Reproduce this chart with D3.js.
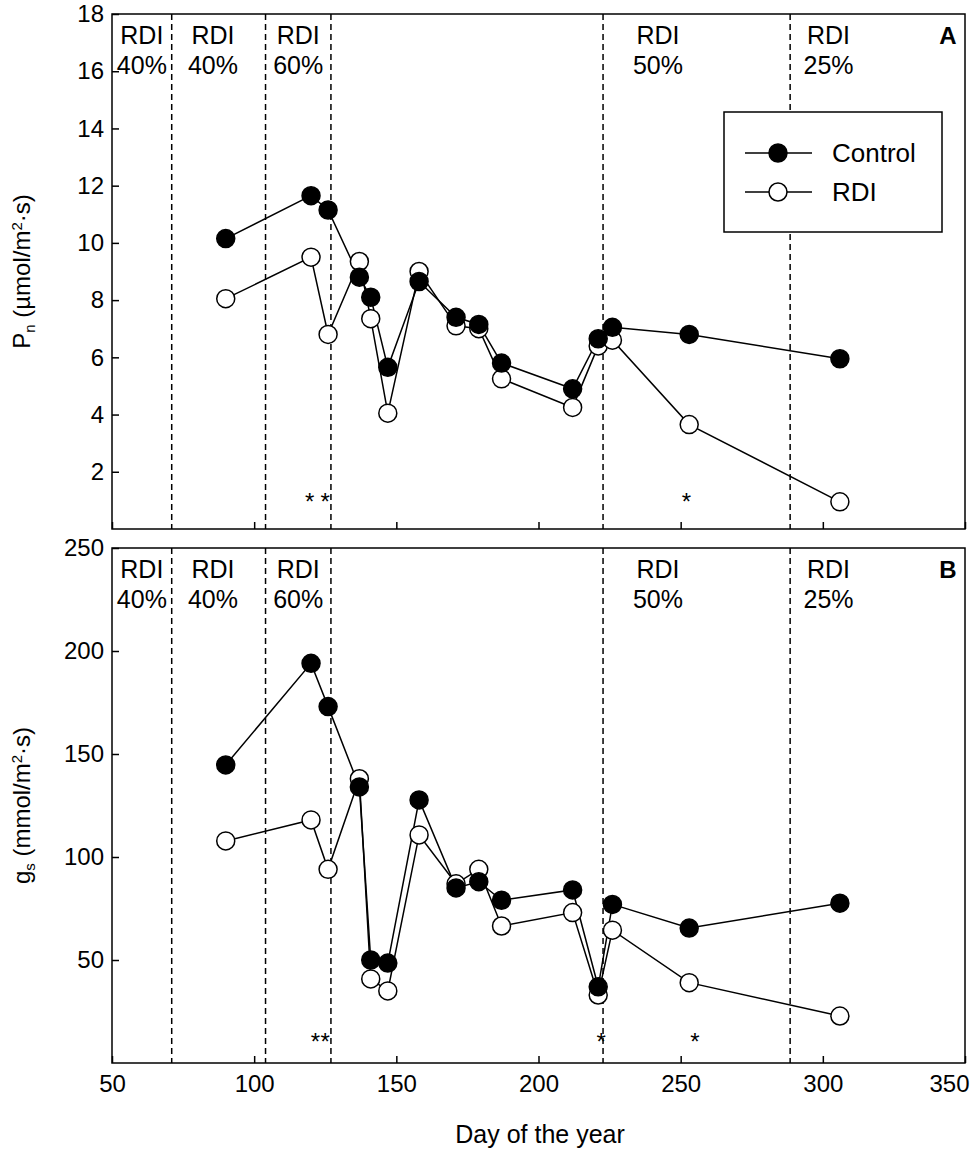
<!DOCTYPE html>
<html><head><meta charset="utf-8">
<script src="https://cdn.jsdelivr.net/npm/d3@7"></script>
<style>body{margin:0;background:#fff}text{font-family:"Liberation Sans Narrow","Arial Narrow","Liberation Sans",sans-serif}</style>
</head><body><svg id="c" width="971" height="1153"></svg>
<script>
const days=[90,120,126,137,141,147,158,171,179,187,212,221,226,253,306];
const pnControl=[10.15,11.65,11.15,8.8,8.1,5.65,8.65,7.4,7.15,5.8,4.9,6.65,7.05,6.8,5.95];
const pnRDI=[8.05,9.5,6.8,9.35,7.35,4.05,9.0,7.1,7.0,5.25,4.25,6.4,6.6,3.65,0.95];
const gsControl=[144.7,194,173,134,50,48.5,127.7,85,88,79,84,37,77,65.5,77.6];
const gsRDI=[107.8,118,94,138,40.8,35,110.7,87,94,66.5,73,33,64.5,39,22.8];
const phaseLines=[71,104,127,222.7,288.5];
const phaseLabels=[{d:60.5,t:"40%"},{d:85.5,t:"40%"},{d:115.5,t:"60%"},{d:242,t:"50%"},{d:302,t:"25%"}];
const xTicks=[50,100,150,200,250,300,350];
const pnTicks=[2,4,6,8,10,12,14,16,18];
const gsTicks=[50,100,150,200,250];
const starsA=[119.5,125,252];
const starsB=[121.5,125,222,255];

const svg=d3.select("#c");
const x=d3.scaleLinear().domain([50,350]).range([112,965]);
function panel(top,bottom,ymax,ticks,ctrl,rdi,stars,starY,letter,ylabel){
  const y=d3.scaleLinear().domain([0,ymax]).range([bottom,top]);
  const g=svg.append("g");
  g.append("rect").attr("x",112).attr("y",top).attr("width",853).attr("height",bottom-top).attr("fill","none").attr("stroke","#000").attr("stroke-width",1.5);
  g.append("g").attr("transform",`translate(0,${bottom})`).call(d3.axisBottom(x).tickValues(xTicks).tickSize(-7).tickFormat(top<300?"":d3.format("d")))
   .call(a=>{a.select(".domain").remove();a.selectAll("text").attr("dy","1.1em").style("font-size","24px");a.selectAll("line").attr("stroke-width",1.5);
     a.selectAll("text").filter(d=>d===350).attr("text-anchor","end").attr("x",4);});
  g.append("g").attr("transform","translate(112,0)").call(d3.axisLeft(y).tickValues(ticks).tickSize(-7).tickPadding(8))
   .call(a=>{a.select(".domain").remove();a.selectAll("text").style("font-size","24px");a.selectAll("line").attr("stroke-width",1.5);});
  phaseLines.forEach(d=>g.append("line").attr("x1",x(d)).attr("x2",x(d)).attr("y1",top).attr("y2",bottom).attr("stroke","#000").attr("stroke-width",1.5).attr("stroke-dasharray","6,4"));
  phaseLabels.forEach(p=>{
    g.append("text").attr("x",x(p.d)).attr("y",top+30).attr("text-anchor","middle").style("font-size","25px").text("RDI");
    g.append("text").attr("x",x(p.d)).attr("y",top+60).attr("text-anchor","middle").style("font-size","25px").text(p.t);
  });
  g.append("text").attr("x",948).attr("y",top+30).attr("text-anchor","middle").style("font-size","24px").style("font-weight","bold").text(letter);
  const line=d3.line().x((d,i)=>x(days[i])).y(d=>y(d));
  [rdi,ctrl].forEach(s=>{
    g.append("path").datum(s).attr("d",line).attr("fill","none").attr("stroke","#000").attr("stroke-width",1.5);
  });
  [[rdi,"#fff"],[ctrl,"#000"]].forEach(([s,f])=>{
    g.selectAll(null).data(s).enter().append("circle").attr("cx",(d,i)=>x(days[i])).attr("cy",d=>y(d)).attr("r",9).attr("fill",f).attr("stroke","#000").attr("stroke-width",1.5);
  });
  stars.forEach(d=>g.append("text").attr("x",x(d)).attr("y",starY).attr("text-anchor","middle").style("font-size","24px").text("*"));
  const yl=g.append("text").attr("transform",`translate(30,${(top+bottom)/2}) rotate(-90)`).attr("text-anchor","middle").style("font-size","24px");
  yl.append("tspan").text(ylabel[0]);
  yl.append("tspan").attr("dy",5).style("font-size","15px").text(ylabel[1]);
  yl.append("tspan").attr("dy",-5).text(ylabel[2]);
  yl.append("tspan").attr("dy",-8).style("font-size","15px").text("2");
  yl.append("tspan").attr("dy",8).text(ylabel[3]);
}
panel(14,529,18,pnTicks,pnControl,pnRDI,starsA,510,"A",["P","n"," (µmol/m","·s)"]);
panel(548,1063,250,gsTicks,gsControl,gsRDI,starsB,1050,"B",["g","s"," (mmol/m","·s)"]);
svg.append("text").attr("x",540).attr("y",1143).attr("text-anchor","middle").style("font-size","25px").text("Day of the year");
const lg=svg.append("g");
lg.append("rect").attr("x",724).attr("y",112).attr("width",218).attr("height",120).attr("fill","#fff").attr("stroke","#000").attr("stroke-width",1.5);
[["Control","#000",153],["RDI","#fff",192]].forEach(([t,f,yy])=>{
  lg.append("line").attr("x1",745).attr("x2",812).attr("y1",yy).attr("y2",yy).attr("stroke","#000").attr("stroke-width",1.5);
  lg.append("circle").attr("cx",778).attr("cy",yy).attr("r",9).attr("fill",f).attr("stroke","#000").attr("stroke-width",1.5);
  lg.append("text").attr("x",832).attr("y",yy+9).style("font-size","26px").text(t);
});
</script></body></html>
